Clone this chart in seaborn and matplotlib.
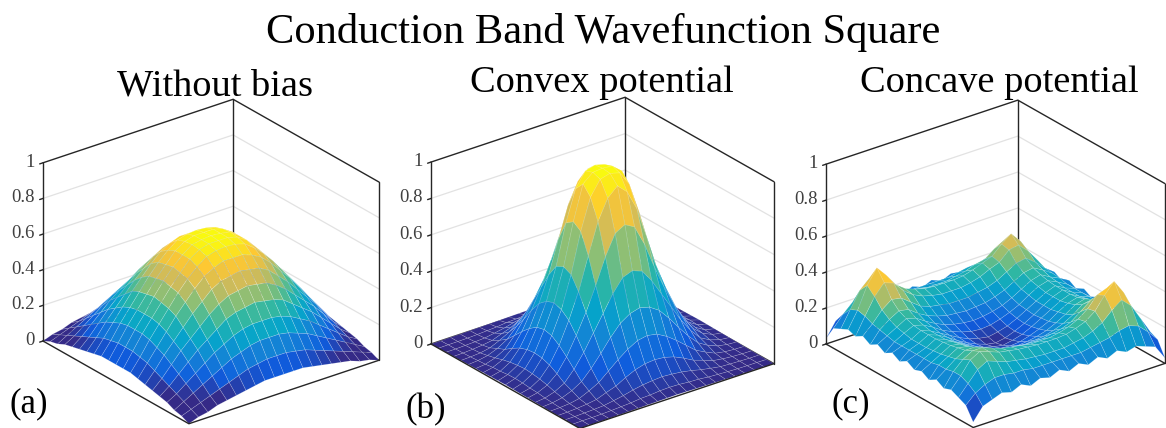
import numpy as np
import seaborn as sns
import matplotlib
matplotlib.use("Agg")
import matplotlib.pyplot as plt
from mpl_toolkits.mplot3d import proj3d

# one quarter of each surface, row/column 0 = box edge, 10 = box centre
no_bias = [
    [.00, .02, .03, .05, .06, .07, .08, .09, .10, .10, .10],
    [.02, .04, .06, .08, .10, .12, .14, .16, .17, .18, .18],
    [.03, .06, .09, .12, .15, .18, .21, .23, .25, .26, .26],
    [.05, .08, .12, .16, .20, .24, .27, .30, .32, .33, .33],
    [.06, .10, .15, .20, .25, .29, .33, .37, .39, .40, .41],
    [.07, .12, .18, .24, .29, .34, .39, .43, .46, .47, .48],
    [.08, .14, .21, .27, .33, .39, .44, .49, .52, .53, .54],
    [.09, .16, .23, .30, .37, .43, .49, .54, .57, .59, .59],
    [.10, .17, .25, .32, .39, .46, .52, .57, .61, .625, .63],
    [.10, .18, .26, .33, .40, .47, .53, .59, .625, .64, .64],
    [.10, .18, .26, .33, .41, .48, .54, .59, .63, .64, .645],
]
convex = [
    [.000, .000, .001, .001, .002, .003, .004, .005, .006, .007, .008],
    [.000, .001, .001, .002, .004, .007, .010, .016, .018, .023, .025],
    [.001, .001, .003, .005, .008, .017, .027, .040, .050, .056, .060],
    [.001, .002, .005, .010, .018, .038, .056, .085, .110, .125, .130],
    [.002, .004, .008, .018, .042, .070, .115, .160, .200, .230, .240],
    [.003, .007, .017, .038, .070, .125, .190, .260, .320, .355, .370],
    [.004, .010, .027, .056, .115, .190, .280, .370, .460, .530, .550],
    [.005, .016, .040, .085, .160, .260, .370, .500, .640, .750, .780],
    [.006, .018, .050, .110, .200, .320, .460, .640, .810, .920, .970],
    [.007, .023, .056, .125, .230, .355, .530, .750, .920, 1.00, 1.015],
    [.008, .025, .060, .130, .240, .370, .550, .780, .970, 1.015, 1.02],
]
# the concave surface has unequal corner peaks, so its quarters differ
concave_side = [
    [.03, .11, .13, .15, .135, .16, .135, .16, .135, .16, .135],
    [.11, .17, .22, .24, .23, .21, .20, .19, .18, .18, .18],
    [.13, .22, .31, .36, .32, .27, .24, .22, .21, .20, .20],
    [.15, .24, .36, .44, .38, .31, .27, .25, .235, .23, .23],
    [.135, .23, .32, .38, .36, .30, .26, .235, .22, .21, .21],
    [.16, .21, .27, .31, .30, .26, .22, .20, .19, .18, .18],
    [.135, .20, .24, .27, .26, .22, .19, .17, .155, .15, .145],
    [.16, .19, .22, .25, .235, .20, .17, .145, .13, .12, .115],
    [.135, .18, .21, .235, .22, .19, .155, .13, .11, .095, .09],
    [.16, .18, .20, .23, .21, .18, .15, .12, .095, .08, .07],
    [.135, .18, .20, .23, .21, .18, .145, .115, .09, .07, .06],
]
concave_front = [
    [.03, .10, .12, .14, .125, .15, .125, .15, .135, .16, .135],
    [.10, .15, .18, .20, .20, .19, .19, .18, .18, .18, .18],
    [.12, .18, .24, .27, .25, .23, .22, .21, .205, .20, .20],
    [.14, .20, .27, .30, .28, .26, .25, .24, .235, .23, .23],
    [.125, .20, .25, .28, .28, .26, .24, .23, .22, .21, .21],
    [.15, .19, .23, .26, .26, .24, .21, .195, .19, .18, .18],
    [.125, .19, .22, .25, .24, .21, .19, .17, .155, .15, .145],
    [.15, .18, .21, .24, .23, .195, .17, .145, .13, .12, .115],
    [.135, .18, .205, .235, .22, .19, .155, .13, .11, .095, .09],
    [.16, .18, .20, .23, .21, .18, .15, .12, .095, .08, .07],
    [.135, .18, .20, .23, .21, .18, .145, .115, .09, .07, .06],
]
concave_back = [
    [.03, .11, .13, .15, .135, .16, .135, .16, .135, .16, .135],
    [.11, .16, .20, .22, .22, .20, .195, .19, .18, .18, .18],
    [.13, .20, .28, .32, .29, .25, .23, .215, .21, .20, .20],
    [.15, .23, .32, .38, .34, .29, .26, .245, .235, .23, .23],
    [.135, .22, .29, .34, .33, .28, .25, .23, .22, .21, .21],
    [.16, .20, .25, .29, .28, .25, .22, .20, .19, .18, .18],
    [.135, .20, .24, .27, .26, .22, .19, .17, .155, .15, .145],
    [.16, .19, .22, .25, .235, .20, .17, .145, .13, .12, .115],
    [.135, .18, .21, .235, .22, .19, .155, .13, .11, .095, .09],
    [.16, .18, .20, .23, .21, .18, .15, .12, .095, .08, .07],
    [.135, .18, .20, .23, .21, .18, .145, .115, .09, .07, .06],
]

titles = ["Without bias", "Convex potential", "Concave potential"]
letters = ["(a)", "(b)", "(c)"]
z_ticks = [0, 0.2, 0.4, 0.6, 0.8, 1]
z_labels = ["0", "0.2", "0.4", "0.6", "0.8", "1"]

W, H = 1166, 428

sns.set_theme(style="white")
plt.rcParams["font.family"] = ["Liberation Serif", "DejaVu Serif"]

parula = sns.blend_palette(
    ["#352a87", "#0f5cdd", "#1481d6", "#06a4ca", "#2eb7a4", "#87bf77", "#d1bb59", "#fec832", "#f9fb0e"],
    as_cmap=True,
)


def mirror(quarter):
    q = np.array(quarter)
    top = np.hstack([q, q[:, -2::-1]])
    return np.vstack([top, top[-2::-1]])


def stitch(left, front, right, back):
    # quarters named after the box corner they hold
    z = np.zeros((21, 21))
    z[:11, :11] = left
    z[:11, 20:9:-1] = front
    z[20:9:-1, 20:9:-1] = right
    z[20:9:-1, :11] = back
    return z


def to_pixels(ax, x, y, z):
    xs, ys, _ = proj3d.proj_transform(x, y, z, ax.get_proj())
    return ax.transData.transform((xs, ys))


def place(ax, left_x, right_x, left_y):
    # put the box corners on given image pixels
    s0 = 400.0
    ax.set_position([0, 0, s0 / W, s0 / H])
    ax.apply_aspect()
    s = s0 * (right_x - left_x) / (to_pixels(ax, 1, 1, 0)[0] - to_pixels(ax, -1, -1, 0)[0])
    ax.set_position([0, 0, s / W, s / H])
    ax.apply_aspect()
    a = to_pixels(ax, -1, -1, 0)
    ax.set_position([(left_x - a[0]) / W, (H - left_y - a[1]) / H, s / W, s / H])
    ax.apply_aspect()


def draw_box(ax):
    line = dict(color="#262626", lw=1.0, zorder=1)
    # back walls
    for z in z_ticks[1:-1]:
        ax.plot([-1, -1, 1], [-1, 1, 1], [z, z, z], color="#e2e2e2", lw=0.9, zorder=0)
    ax.plot([-1, -1, 1], [-1, 1, 1], [1, 1, 1], **line)
    ax.plot([-1, -1, 1], [-1, 1, 1], [0, 0, 0], **line)
    ax.plot([-1, -1], [1, 1], [0, 1], **line)
    # front edges on top of the surface
    line["zorder"] = 5
    ax.plot([-1, 1, 1], [-1, -1, 1], [0, 0, 0], **line)
    ax.plot([-1, -1], [-1, -1], [0, 1], **line)
    ax.plot([1, 1], [1, 1], [0, 1], **line)
    for z in z_ticks:
        ax.plot([-1, -1], [-1, -1.035], [z, z], **line)


fig = plt.figure(figsize=(W / 100, H / 100), dpi=100)

x = np.linspace(-1, 1, 21)
X, Y = np.meshgrid(x, x)
surfaces = [mirror(no_bias), mirror(convex),
            stitch(concave_side, concave_front, concave_side, concave_back)]
color_low = [0.07, 0.0, 0.06]
boxes = [(43, 379, 341), (431, 774, 344), (826, 1165, 344)]
title_x = [215, 602, 999]
title_y = [86, 83, 83]
letter_xy = [(29, 404), (426, 410), (851, 404)]

for i in range(3):
    ax = fig.add_subplot(projection="3d", computed_zorder=False)
    ax.set_proj_type("ortho")
    ax.view_init(elev=25.8, azim=-37.5)
    ax.set_box_aspect((1, 1, 0.826))
    ax.set_xlim(-1, 1)
    ax.set_ylim(-1, 1)
    ax.set_zlim(0, 1)
    ax.set_xticks([])
    ax.set_yticks([])
    ax.set_zticks([])
    ax.set_axis_off()

    Z = surfaces[i]
    draw_box(ax)
    ax.plot_surface(X, Y, Z, rstride=1, cstride=1, cmap=parula, vmin=color_low[i], vmax=Z.max(),
                    edgecolor=(1, 1, 1, 0.25), linewidth=0.4, shade=False, zorder=2)
    place(ax, *boxes[i])

    for z, lab in zip(z_ticks, z_labels):
        p = to_pixels(ax, -1, -1.085, z + 0.018)
        fig.text(p[0] / W, p[1] / H, lab, ha="right", va="center", fontsize=13.5, color="#404040")

    fig.text(title_x[i] / W, 1 - title_y[i] / H, titles[i], ha="center", va="center",
             fontsize=27.6, color="black")
    fig.text(letter_xy[i][0] / W, 1 - letter_xy[i][1] / H, letters[i], ha="center", va="center",
             fontsize=25, color="black")

fig.text(603 / W, 1 - 32 / H, "Conduction Band Wavefunction Square", ha="center", va="center",
         fontsize=30.6, color="black")

fig.savefig("out.png", dpi=100)
